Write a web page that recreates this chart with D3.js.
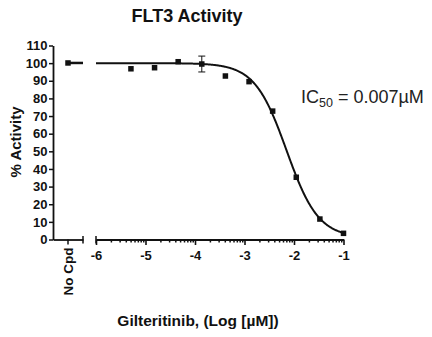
<!DOCTYPE html>
<html><head><meta charset="utf-8">
<script src="https://cdn.jsdelivr.net/npm/d3@7"></script>
<style>
html,body{margin:0;padding:0;background:#fff;}
svg{display:block;font-family:"Liberation Sans",Arial,Helvetica,sans-serif;}
</style></head>
<body>
<svg id="chart" width="432" height="337"></svg>
<script>
// ---- data ----
const logConc = [-5.294, -4.817, -4.340, -3.863, -3.386, -2.908, -2.431, -1.954, -1.477, -1.0];
const activity = [96.8, 97.4, 100.8, 99.5, 92.7, 89.5, 72.8, 35.3, 11.6, 3.5];
const errorSD = [0, 0, 0, 4.5, 0, 0, 0, 0, 0, 0];
const noCpdLabel = "No Cpd";
const noCpdValue = 100.1;
const yTicks = [0, 10, 20, 30, 40, 50, 60, 70, 80, 90, 100, 110];
const xTicks = [-6, -5, -4, -3, -2, -1];
const fitTop = 100, fitBottom = 1, fitLogIC50 = -2.15, fitHill = 1.35;
const titleText = "FLT3 Activity";
const xTitle = "Gilteritinib, (Log [\u00B5M])";
const yTitle = "% Activity";
const icLabel = ["IC", "50", " = 0.007\u00B5M"];

// ---- layout ----
const svg = d3.select("#chart");
const y = d3.scaleLinear().domain([0, 110]).range([239.5, 45.5]);
const xL = d3.scaleBand().domain([noCpdLabel]).range([53, 83]).paddingInner(0).paddingOuter(0);
const x = d3.scaleLinear().domain([-6, -1]).range([96, 343.5]);
const axisW = 1.8;
const ink = "#111";

function fit(lx) {
  return fitBottom + (fitTop - fitBottom) / (1 + Math.pow(10, fitHill * (lx - fitLogIC50)));
}

// Y axis
const gy = svg.append("g").attr("transform", "translate(53,0)")
  .call(d3.axisLeft(y).tickValues(yTicks).tickSize(4).tickSizeOuter(0).tickPadding(1.5));
gy.select(".domain").attr("stroke", ink).attr("stroke-width", axisW);
gy.selectAll(".tick line").attr("stroke", ink).attr("stroke-width", 1.5);
gy.selectAll(".tick text").attr("font-size", 13).attr("font-weight", "bold").attr("fill", ink)
  .attr("font-family", "Liberation Sans, Arial, sans-serif");

// X axis: left segment (No Cpd)
const gxl = svg.append("g").attr("transform", "translate(0,239.5)")
  .call(d3.axisBottom(xL).tickSize(5).tickSizeOuter(0));
gxl.select(".domain").attr("stroke", ink).attr("stroke-width", axisW);
gxl.selectAll(".tick line").attr("stroke", ink).attr("stroke-width", 1.5);
gxl.selectAll(".tick text")
  .attr("font-size", 13.5).attr("font-weight", "bold").attr("fill", ink)
  .attr("font-family", "Liberation Sans, Arial, sans-serif")
  .attr("text-anchor", "end").attr("dy", null).attr("y", 0)
  .attr("transform", "translate(4.8,8) rotate(-90)");
// left segment end cap
svg.append("line").attr("x1", xL.range()[1]).attr("x2", xL.range()[1])
  .attr("y1", 236).attr("y2", 243.5).attr("stroke", ink).attr("stroke-width", 1.5);

// X axis: right segment (log scale in decades)
const minorTicks = [];
for (let d = -6; d < -1; d++) for (let k = 2; k <= 9; k++) minorTicks.push(d + Math.log10(k));
const gxm = svg.append("g").attr("transform", "translate(0,239.5)")
  .call(d3.axisBottom(x).tickValues(minorTicks).tickSize(3).tickSizeOuter(0).tickFormat(""));
gxm.select(".domain").attr("stroke", ink).attr("stroke-width", axisW);
gxm.selectAll(".tick line").attr("stroke", ink).attr("stroke-width", 1.5);
const gx = svg.append("g").attr("transform", "translate(0,239.5)")
  .call(d3.axisBottom(x).tickValues(xTicks).tickSize(5.5).tickSizeOuter(0).tickPadding(6).tickFormat(d3.format("d")));
gx.select(".domain").remove();
gx.selectAll(".tick line").attr("stroke", ink).attr("stroke-width", 1.6);
gx.selectAll(".tick text").attr("font-size", 13).attr("font-weight", "bold").attr("fill", ink)
  .attr("font-family", "Liberation Sans, Arial, sans-serif").text(d => d.toString().replace("\u2212", "-"));
// right segment start cap
svg.append("line").attr("x1", x(-6)).attr("x2", x(-6))
  .attr("y1", 236).attr("y2", 243.5).attr("stroke", ink).attr("stroke-width", 1.5);

// fitted curve
const curvePts = d3.range(-6, -0.9999, 0.01).map(v => [v, fit(v)]);
svg.append("path").datum(curvePts)
  .attr("fill", "none").attr("stroke", ink).attr("stroke-width", 2)
  .attr("d", d3.line().x(d => x(d[0])).y(d => y(d[1])));
// No Cpd level line
const ncx = xL(noCpdLabel) + xL.bandwidth() / 2;
svg.append("line").attr("x1", ncx).attr("x2", xL.range()[1])
  .attr("y1", y(noCpdValue)).attr("y2", y(noCpdValue))
  .attr("stroke", ink).attr("stroke-width", 2.5);

// error bars
const pts = logConc.map((v, i) => ({x: v, y: activity[i], e: errorSD[i]}));
const eb = svg.append("g").selectAll("g").data(pts.filter(d => d.e > 0)).join("g");
eb.append("line").attr("x1", d => x(d.x)).attr("x2", d => x(d.x))
  .attr("y1", d => y(d.y + d.e)).attr("y2", d => y(d.y - d.e)).attr("stroke", ink).attr("stroke-width", 1);
eb.append("line").attr("x1", d => x(d.x) - 3.5).attr("x2", d => x(d.x) + 3.5)
  .attr("y1", d => y(d.y + d.e)).attr("y2", d => y(d.y + d.e)).attr("stroke", ink).attr("stroke-width", 1);
eb.append("line").attr("x1", d => x(d.x) - 3.5).attr("x2", d => x(d.x) + 3.5)
  .attr("y1", d => y(d.y - d.e)).attr("y2", d => y(d.y - d.e)).attr("stroke", ink).attr("stroke-width", 1);

// markers
const ms = 5.5;
svg.append("g").selectAll("rect").data(pts).join("rect")
  .attr("x", d => x(d.x) - ms / 2).attr("y", d => y(d.y) - ms / 2)
  .attr("width", ms).attr("height", ms).attr("fill", ink);
svg.append("rect").attr("x", ncx - ms / 2).attr("y", y(noCpdValue) - ms / 2)
  .attr("width", ms).attr("height", ms).attr("fill", ink);

// titles
svg.append("text").attr("x", 187).attr("y", 22).attr("text-anchor", "middle")
  .attr("font-size", 18).attr("font-weight", "bold").attr("fill", ink).text(titleText);
svg.append("text").attr("x", 198).attr("y", 326).attr("text-anchor", "middle")
  .attr("font-size", 15.5).attr("font-weight", "bold").attr("fill", ink).text(xTitle);
svg.append("text").attr("transform", "translate(20.5,142) rotate(-90)").attr("text-anchor", "middle")
  .attr("font-size", 15).attr("font-weight", "bold").attr("fill", ink).text(yTitle);

// IC50 annotation
const ic = svg.append("text").attr("x", 301).attr("y", 103).attr("font-size", 18).attr("fill", "#222");
ic.append("tspan").text(icLabel[0]);
ic.append("tspan").attr("font-size", 12.5).attr("dy", 4).text(icLabel[1]);
ic.append("tspan").attr("dy", -4).text(icLabel[2]);
</script>
</body></html>
